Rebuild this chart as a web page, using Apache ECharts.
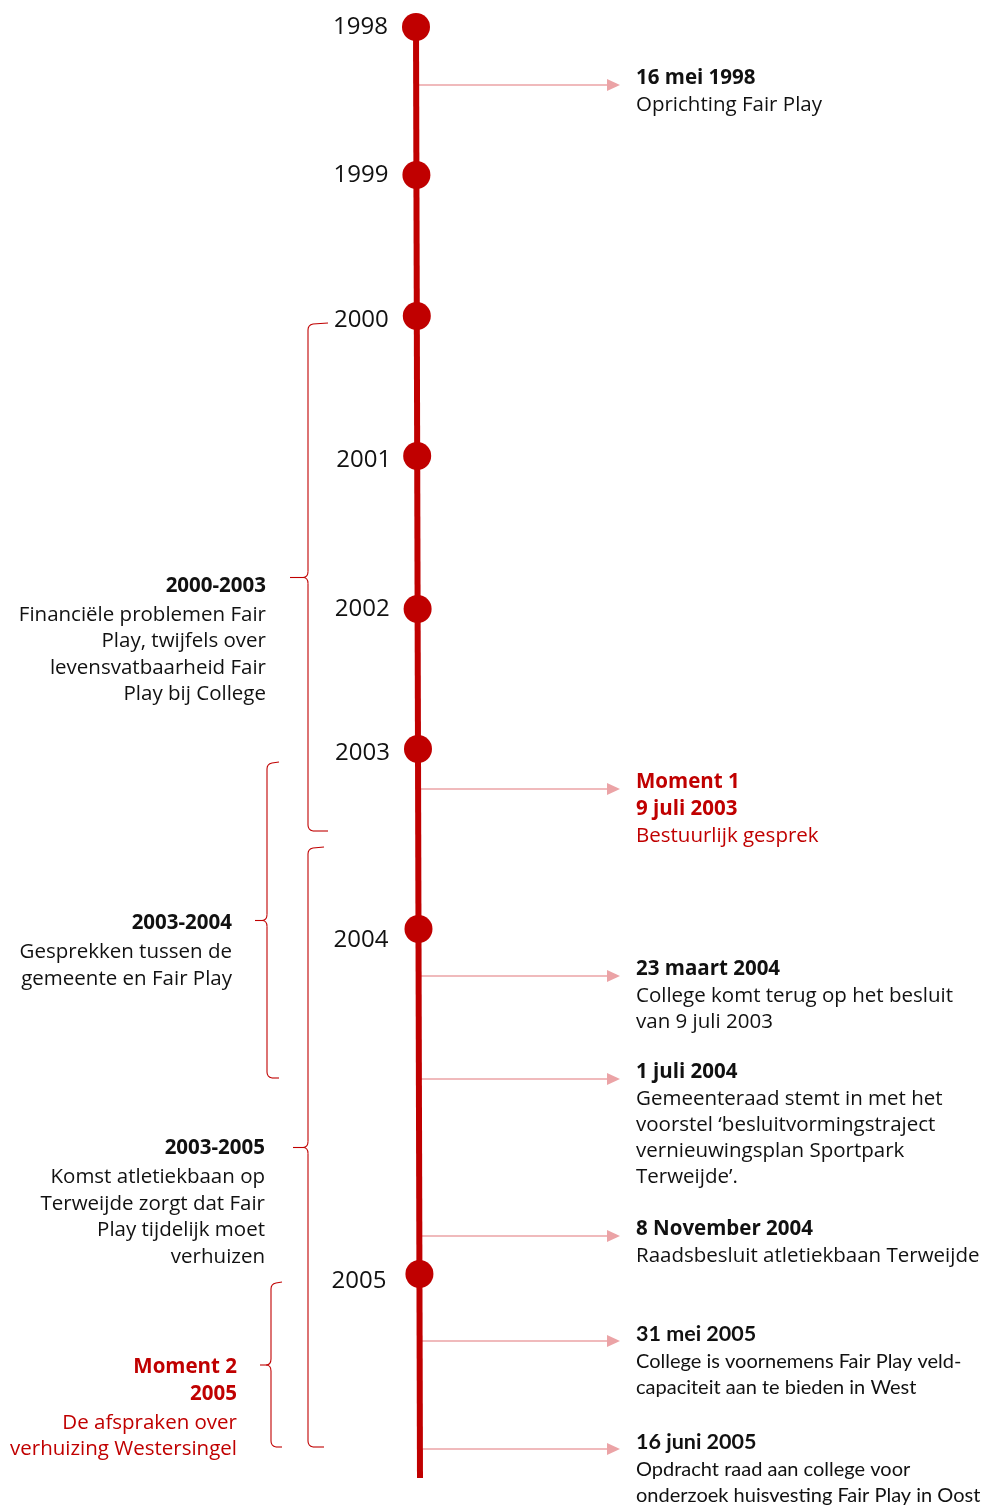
<!DOCTYPE html>
<html><head><meta charset="utf-8">
<script src="https://cdn.jsdelivr.net/npm/echarts@6/dist/echarts.min.js"></script>
<style>html,body{margin:0;padding:0;background:#fff}#c{width:989px;height:1506px}</style>
</head><body><div id="c"></div>
<script>
// ---------- DATA ----------
const years = ['1998', '1999', '2000', '2001', '2002', '2003', '2004', '2005'];
const yearPos = [27, 175, 316, 456, 609, 749, 929, 1274];   // position along the timeline
const timelineStart = 27;
const timelineEnd = 1478;

const eventPos = [85, 789, 976, 1079, 1236, 1341, 1449];
const eventTitles = [
  ['16 mei 1998'],
  ['Moment 1', '9 juli 2003'],
  ['23 maart 2004'],
  ['1 juli 2004'],
  ['8 November 2004'],
  ['31 mei 2005'],
  ['16 juni 2005']
];
const eventBodies = [
  ['Oprichting Fair Play'],
  ['Bestuurlijk gesprek'],
  ['College komt terug op het besluit', 'van 9 juli 2003'],
  ['Gemeenteraad stemt in met het', 'voorstel ‘besluitvormingstraject', 'vernieuwingsplan Sportpark', 'Terweijde’.'],
  ['Raadsbesluit atletiekbaan Terweijde'],
  ['College is voornemens Fair Play veld-', 'capaciteit aan te bieden in West'],
  ['Opdracht raad aan college voor', 'onderzoek huisvesting Fair Play in Oost']
];
const eventHighlight = [false, true, false, false, false, false, false];

const periodStart = [325, 764, 849, 1284];
const periodEnd = [830, 1077, 1446, 1446];
const periodTitles = [
  ['2000-2003'],
  ['2003-2004'],
  ['2003-2005'],
  ['Moment 2', '2005']
];
const periodBodies = [
  ['Financiële problemen Fair', 'Play, twijfels over', 'levensvatbaarheid Fair', 'Play bij College'],
  ['Gesprekken tussen de', 'gemeente en Fair Play'],
  ['Komst atletiekbaan op', 'Terweijde zorgt dat Fair', 'Play tijdelijk moet', 'verhuizen'],
  ['De afspraken over', 'verhuizing Westersingel']
];
const periodHighlight = [false, false, false, true];

// ---------- LAYOUT / STYLE ----------
const L = {
  lineTopX: 416, lineBottomX: 420, lineWidth: 6,
  red: '#C00000', pink: '#EBA3A6', ink: '#111111',
  dotSize: 28, yearGap: 14,
  yearNudge: [[0, 0], [0, 0], [0, 4], [2, 4], [0, 0], [0, 4], [-2, 11], [-5, 7]],
  arrowEnd: 620, headLen: 13, headHalf: 6, textX: 636,
  titleOffset: -7, titleLH: 27, bodyGap: 27.5, bodyLH: 26,
  fontMain: '"Open Sans"', fontAlt: 'Lato', altEvents: [5, 6],
  braceX: [308, 267, 308, 271], braceHook: [20, 12, 16, 11], braceTip: [18, 12, 15, 11],
  braceTextGap: [24, 23, 28, 23],
  periodNudge: [8.5, 3, 1, 2], pTitleGap: 29, pBodyLH: 26.5
};
function lineX(pos) {
  return L.lineTopX + (L.lineBottomX - L.lineTopX) * (pos - timelineStart) / (timelineEnd - timelineStart);
}

const chart = echarts.init(document.getElementById('c'), null, { renderer: 'canvas' });

function textEl(x, y, text, font, fill, align) {
  return {
    type: 'text', x: x, y: y,
    style: { text: text, font: font, fill: fill, align: align, textAlign: align, verticalAlign: 'middle', textVerticalAlign: 'middle' }
  };
}

function renderEvent(params, api) {
  const i = params.dataIndex;
  const pos = api.value(1);
  const p0 = api.coord([lineX(pos), pos]);
  const p1 = api.coord([L.arrowEnd, pos]);
  const children = [
    { type: 'line', shape: { x1: p0[0], y1: p0[1], x2: p1[0] - L.headLen + 1, y2: p1[1] }, style: { stroke: L.pink, lineWidth: 1.5 } },
    { type: 'polygon', shape: { points: [[p1[0], p1[1]], [p1[0] - L.headLen, p1[1] - L.headHalf], [p1[0] - L.headLen, p1[1] + L.headHalf]] }, style: { fill: L.pink } }
  ];
  const alt = L.altEvents.indexOf(i) >= 0;
  const fam = alt ? L.fontAlt : L.fontMain;
  const tSize = alt ? 21.5 : 20.5, bSize = alt ? 20 : 20.5;
  const col = eventHighlight[i] ? L.red : L.ink;
  const tx = api.coord([L.textX, pos])[0];
  let y = p0[1] + L.titleOffset;
  eventTitles[i].forEach((t, k) => {
    if (k > 0) y += L.titleLH;
    children.push(textEl(tx, y, t, 'bold ' + tSize + 'px ' + fam, col, 'left'));
  });
  y += L.bodyGap;
  eventBodies[i].forEach((t, k) => {
    if (k > 0) y += L.bodyLH;
    children.push(textEl(tx, y, t, bSize + 'px ' + fam, col, 'left'));
  });
  return { type: 'group', children: children };
}

function renderPeriod(params, api) {
  const i = params.dataIndex;
  const s = api.value(0), e = api.value(1);
  const bx = L.braceX[i], hook = L.braceHook[i], tip = L.braceTip[i];
  const top = api.coord([bx, s]), bot = api.coord([bx, e]);
  const mid = (top[1] + bot[1]) / 2;
  const x = top[0];
  const r = 5;
  const st = { stroke: L.red, lineWidth: 1.1, fill: 'none' };
  const children = [
    { type: 'line', shape: { x1: x + r, y1: top[1] - 1, x2: x + hook, y2: top[1] - 2 }, style: st },
    { type: 'bezierCurve', shape: { x1: x, y1: top[1] + r, cpx1: x, cpy1: top[1], x2: x + r, y2: top[1] - 1 }, style: st },
    { type: 'line', shape: { x1: x, y1: top[1] + r, x2: x, y2: mid - 6 }, style: st },
    { type: 'bezierCurve', shape: { x1: x, y1: mid - 6, cpx1: x, cpy1: mid, x2: x - 5, y2: mid }, style: st },
    { type: 'bezierCurve', shape: { x1: x, y1: mid + 6, cpx1: x, cpy1: mid, x2: x - 5, y2: mid }, style: st },
    { type: 'line', shape: { x1: x - 5, y1: mid, x2: x - tip, y2: mid }, style: st },
    { type: 'line', shape: { x1: x, y1: mid + 6, x2: x, y2: bot[1] - r }, style: st },
    { type: 'bezierCurve', shape: { x1: x, y1: bot[1] - r, cpx1: x, cpy1: bot[1], x2: x + r, y2: bot[1] + 1 }, style: st },
    { type: 'line', shape: { x1: x + r, y1: bot[1] + 1, x2: x + hook, y2: bot[1] + 1 }, style: st }
  ];
  const col = periodHighlight[i] ? L.red : L.ink;
  const rx = x - tip - L.braceTextGap[i];
  let y = mid + L.periodNudge[i];
  periodTitles[i].forEach((t, k) => {
    if (k > 0) y += L.titleLH;
    children.push(textEl(rx, y, t, 'bold 20.5px ' + L.fontMain, col, 'right'));
  });
  y += L.pTitleGap;
  periodBodies[i].forEach((t, k) => {
    if (k > 0) y += L.pBodyLH;
    children.push(textEl(rx, y, t, '20.5px ' + L.fontMain, col, 'right'));
  });
  return { type: 'group', children: children };
}

const option = {
  animation: false,
  backgroundColor: '#ffffff',
  grid: { left: 0, right: 0, top: 0, bottom: 0 },
  xAxis: { type: 'value', min: 0, max: 989, show: false },
  yAxis: { type: 'value', min: 0, max: 1506, inverse: true, show: false },
  series: [
    {
      type: 'custom', z: 1,
      data: eventPos.map(p => [lineX(p), p]),
      renderItem: renderEvent
    },
    {
      type: 'custom', z: 1,
      data: periodStart.map((s, i) => [s, periodEnd[i]]),
      encode: { x: -1, y: [0, 1] },
      renderItem: renderPeriod
    },
    {
      type: 'line', z: 3, symbol: 'none',
      data: [[lineX(timelineStart), timelineStart], [lineX(timelineEnd), timelineEnd]],
      lineStyle: { color: L.red, width: L.lineWidth }
    },
    {
      type: 'scatter', z: 4,
      symbol: 'circle', symbolSize: L.dotSize,
      itemStyle: { color: L.red, opacity: 1 },
      data: years.map((y, i) => ({
        value: [lineX(yearPos[i]), yearPos[i]],
        label: { offset: L.yearNudge[i] }
      })),
      label: {
        show: true, position: 'left', distance: L.yearGap,
        formatter: p => years[p.dataIndex],
        color: L.ink, fontSize: 24, fontFamily: 'Open Sans'
      }
    }
  ]
};
chart.setOption(option);
</script>
</body></html>
